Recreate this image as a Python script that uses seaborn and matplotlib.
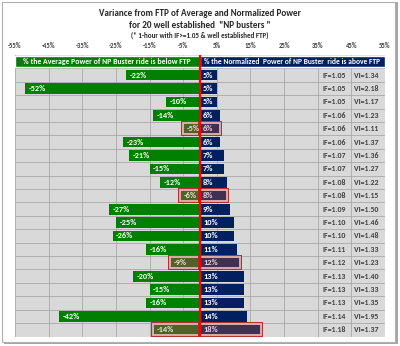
import matplotlib
matplotlib.use('Agg')
import matplotlib.pyplot as plt
from matplotlib import patheffects as pe
from matplotlib.patches import Rectangle
import seaborn as sns
import pandas as pd

# ---------------- data ----------------
rides = [f"R{i}" for i in range(1, 21)]
below_ftp = [-22, -52, -10, -14, -5, -23, -21, -15, -12, -6,
             -27, -25, -26, -16, -9, -20, -15, -16, -42, -14]
above_ftp = [5, 5, 5, 6, 6, 6, 7, 7, 8, 8,
             9, 10, 10, 11, 12, 13, 13, 13, 14, 18]
if_vals = ["1.05", "1.05", "1.05", "1.06", "1.06", "1.06", "1.07", "1.07", "1.08", "1.08",
           "1.09", "1.10", "1.10", "1.11", "1.12", "1.13", "1.13", "1.13", "1.14", "1.18"]
vi_vals = ["1.34", "2.18", "1.17", "1.23", "1.11", "1.37", "1.36", "1.27", "1.22", "1.15",
           "1.50", "1.46", "1.48", "1.33", "1.23", "1.40", "1.33", "1.35", "1.95", "1.37"]
highlight = [False, False, False, False, True, False, False, False, False, True,
             False, False, False, False, True, False, False, False, False, True]
tick_vals = [-55, -45, -35, -25, -15, -5, 5, 15, 25, 35, 45, 55]
tick_labels = ["-55%", "-45%", "-35%", "-25%", "-15%", "-5%", "5%", "15%", "25%", "35%", "45%", "55%"]
header_left = "% the Average Power of NP Buster ride is below FTP"
header_right = "% the Normalized  Power of NP Buster  ride is above FTP"
title1 = "Variance from FTP of Average and Normalized Power"
title2 = 'for 20 well established  "NP busters "'
title3 = "(* 1-hour with IF>=1.05 & well established FTP)"

df = pd.DataFrame({"ride": rides, "below": below_ftp, "above": above_ftp,
                   "hl": highlight})

# ---------------- style ----------------
sns.set_theme(style="white")
plt.rcParams['font.family'] = ['Carlito', 'DejaVu Sans']
plt.rcParams['font.weight'] = 'bold'

W, H = 400, 346
fig = plt.figure(figsize=(W / 100, H / 100), dpi=100)
fig.patch.set_facecolor('white')

# outer frame with shadow
fig.patches.append(Rectangle((4 / W, 1 - 344 / H), 394 / W, 342 / H, transform=fig.transFigure,
                             facecolor='#a6a6a6', edgecolor='none', zorder=-10))
fig.patches.append(Rectangle((2 / W, 1 - 342 / H), 393 / W, 340 / H, transform=fig.transFigure,
                             facecolor='white', edgecolor='#b0b0b0', lw=0.8, zorder=-9))

left_px, right_px = 15, 385
top_px, bot_px = 55, 336.5
ax = fig.add_axes([left_px / W, 1 - bot_px / H, (right_px - left_px) / W, (bot_px - top_px) / H])
ax.set_zorder(1)
ax.set_facecolor('#d9d9d9')

green, green_hl = '#008000', '#4f6228'
navy, navy_hl = '#002060', '#403152'

sns.barplot(data=df, x="below", y="ride", hue="hl", palette={False: green, True: green_hl},
            dodge=False, width=0.8, orient='h', legend=False, saturation=1, ax=ax, zorder=3)
sns.barplot(data=df, x="above", y="ride", hue="hl", palette={False: navy, True: navy_hl},
            dodge=False, width=0.8, orient='h', legend=False, saturation=1, ax=ax, zorder=3)

for p in ax.patches:
    if p.get_width() == 0 or p.get_height() == 0:
        continue
    row = int(round(p.get_y() + p.get_height() / 2))
    if 0 <= row < 20 and highlight[row]:
        p.set_edgecolor('#e0b8b0')
        p.set_linewidth(1.3)
        p.set_path_effects([pe.Stroke(linewidth=2.8, foreground='#b02828'), pe.Normal()])
    else:
        p.set_linewidth(0)

# header band
ax.barh([-1], [-55], height=0.8, color=green, zorder=3)
ax.barh([-1], [55], height=0.8, color=navy, zorder=3)
ax.text(-27.8, -1, header_left, color='white', fontsize=5.6, ha='center', va='center', zorder=5)
ax.text(27.4, -1, header_right, color='white', fontsize=5.4, ha='center', va='center', zorder=5)

# value labels and IF / VI columns
for i in range(20):
    c1 = '#e8e8d0' if highlight[i] else 'white'
    c2 = '#e8d0e0' if highlight[i] else 'white'
    ax.text(below_ftp[i] + 1.1, i, f"{below_ftp[i]}%", color=c1, fontsize=6.0,
            ha='left', va='center', zorder=5)
    ax.text(0.9, i, f"{above_ftp[i]}%", color=c2, fontsize=6.0,
            ha='left', va='center', zorder=5)
    ax.text(40, i, f"IF={if_vals[i]}", color='#404040', fontsize=5.7,
            ha='center', va='center', zorder=5)
    ax.text(49.5, i, f"VI={vi_vals[i]}", color='#404040', fontsize=5.7,
            ha='center', va='center', zorder=5)

ax.axvline(0, color='#ff0000', lw=1.6, zorder=6)

ax.set_xlim(-55, 55)
ax.set_ylim(19.5, -1.5)
ax.set_xticks(tick_vals)
ax.set_xticklabels(tick_labels)
ax.xaxis.tick_top()
ax.tick_params(axis='x', length=0, pad=4, labelsize=4.8, labelcolor='#404040')
ax.set_yticks([i + 0.5 for i in range(-1, 20)])
ax.set_yticklabels([])
ax.tick_params(axis='y', length=0)
ax.set_xlabel('')
ax.set_ylabel('')
ax.set_axisbelow(True)
ax.grid(True, axis='both', color='#a8a8a8', lw=0.6)
for s in ax.spines.values():
    s.set_visible(False)

fig.text(0.5, 1 - 14 / H, title1, ha='center', va='center', fontsize=6.6, color='#262626')
fig.text(0.5, 1 - 25 / H, title2, ha='center', va='center', fontsize=6.6, color='#262626')
fig.text(0.5, 1 - 35.5 / H, title3, ha='center', va='center', fontsize=5.0, color='#262626')

fig.savefig('out.png', dpi=100)
